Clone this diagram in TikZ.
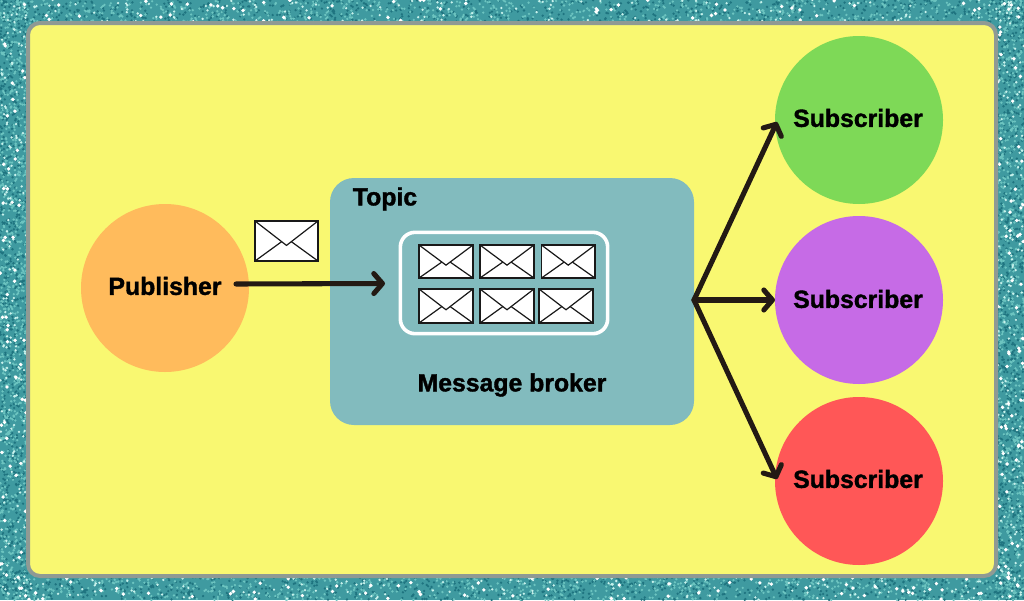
\documentclass[tikz,border=0pt]{standalone}
\usepackage{fontspec}
\setmainfont[BoldFeatures={FakeBold=1.4}]{Liberation Sans}
\usetikzlibrary{arrows.meta}
\definecolor{glitterbase}{HTML}{3F9AA0}
\definecolor{glitterdark}{HTML}{1F7480}
\definecolor{glittermid}{HTML}{6CC4C0}
\definecolor{glitterlight}{HTML}{C8F2EC}
\definecolor{frameyellow}{HTML}{F9F871}
\definecolor{framegray}{HTML}{8F9A94}
\definecolor{brokerteal}{HTML}{82BBBE}
\definecolor{pubcolor}{HTML}{FFBB5C}
\definecolor{subgreen}{HTML}{7ED957}
\definecolor{subpurple}{HTML}{C66BE6}
\definecolor{subred}{HTML}{FF5757}
\definecolor{arrowink}{HTML}{231A14}
\tikzset{
  personnode/.style={circle,minimum size=126pt,inner sep=0pt,outer sep=0pt},
  lbl/.style={inner sep=0pt,font=\fontsize{18.6pt}{20pt}\bfseries,text=black},
  flow/.style={draw=arrowink,line width=3.8pt,line cap=round,-{Straight Barb[length=6.5pt,width=15pt,line width=3.8pt,round]}},
  envbox/.style={draw=black!90,fill=white,line width=0.9pt,rectangle,inner sep=0pt,outer sep=0pt},
  envline/.style={draw=black!90,line width=0.9pt},
}
% envelope: name x0 y0 x1 y1 (pixels)
\newcommand{\envelope}[5]{%
  \node[envbox,minimum width={(#4-#2)*0.75pt},minimum height={(#5-#3)*0.75pt},anchor=north west] (#1) at (#2,#3) {};
  \draw[envline] (#1.north west) -- ({(#2+#4)/2},{#3+0.61*(#5-#3)}) -- (#1.north east);
  \draw[envline] (#1.south west) -- ({#2+0.42*(#4-#2)},{#3+0.52*(#5-#3)});
  \draw[envline] (#1.south east) -- ({#2+0.58*(#4-#2)},{#3+0.52*(#5-#3)});
}
\begin{document}
\begin{tikzpicture}[x=0.75pt,y=-0.75pt]
\useasboundingbox (0,0) rectangle (1024,600);
\begin{scope}
\clip (0,0) rectangle (1024,600);
\fill[glitterbase] (0,0) rectangle (1024,600);
\pgfmathsetseed{4242}
\foreach \c/\n/\r in {glitterdark/1500/1.3,glittermid/1500/1.3,glitterlight/350/1.3,white/130/1.9}{
  \fill[\c] \foreach \i in {1,...,\n}{
    \pgfextra{\pgfmathsetmacro{\px}{rnd*1024}\pgfmathsetmacro{\py}{rnd*25}\pgfmathsetmacro{\pz}{rnd}
    \pgfmathsetmacro{\qy}{\pz<0.5?\py:575+\py}}
    (\px,\qy) circle[radius=\r]
  };
  \fill[\c] \foreach \i in {1,...,\n}{
    \pgfextra{\pgfmathsetmacro{\py}{rnd*600}\pgfmathsetmacro{\px}{rnd*28}\pgfmathsetmacro{\pz}{rnd}
    \pgfmathsetmacro{\qx}{\pz<0.5?\px:996+\px}}
    (\qx,\py) circle[radius=\r]
  };
}
\end{scope}
\draw[draw=framegray,fill=frameyellow,line width=3pt,rounded corners=9pt] (28,23) rectangle (996,576);

\node[personnode,fill=pubcolor] (publisher) at (165,288) {};
\node[lbl] (publabel) at (165,286) {Publisher};
\node[personnode,fill=subgreen] (sub1) at (859,120) {};
\node[personnode,fill=subpurple] (sub2) at (859,300) {};
\node[personnode,fill=subred] (sub3) at (859,481) {};
\node[lbl] (sub1label) at (858,118) {Subscriber};
\node[lbl] (sub2label) at (858,299) {Subscriber};
\node[lbl] (sub3label) at (858,479) {Subscriber};

\node[fill=brokerteal,rectangle,rounded corners=18pt,inner sep=0pt,outer sep=0pt,minimum width=273pt,minimum height=185.25pt,anchor=north west] (broker) at (330,178) {};
\node[lbl] (topic) at (385,199) {Topic};
\node[lbl] (brokerlabel) at (512,385) {Message broker};
\node[draw=white,line width=2.7pt,rectangle,rounded corners=11pt,inner sep=0pt,outer sep=0pt,minimum width=155.5pt,minimum height=76pt] (queue) at (504,283) {};

\envelope{env0}{255}{221}{318}{261}
\envelope{env1}{419}{245}{473}{278}
\envelope{env2}{480}{245}{534}{278}
\envelope{env3}{541.5}{245}{595}{278}
\envelope{env4}{419}{289}{473}{323}
\envelope{env5}{480}{289}{534}{323}
\envelope{env6}{539}{289}{593}{323}

\coordinate (pubstart) at (236,284);
\coordinate (pubend) at (385,283.5);
\coordinate (hub) at (694,300);
\coordinate (tip1) at (777,122);
\coordinate (tip2) at (775,300);
\coordinate (tip3) at (777,479);
\draw[flow] (pubstart) -- (pubend);
\draw[flow] (hub) -- (tip1);
\draw[flow] (hub) -- (tip2);
\draw[flow] (hub) -- (tip3);
\end{tikzpicture}
\end{document}
